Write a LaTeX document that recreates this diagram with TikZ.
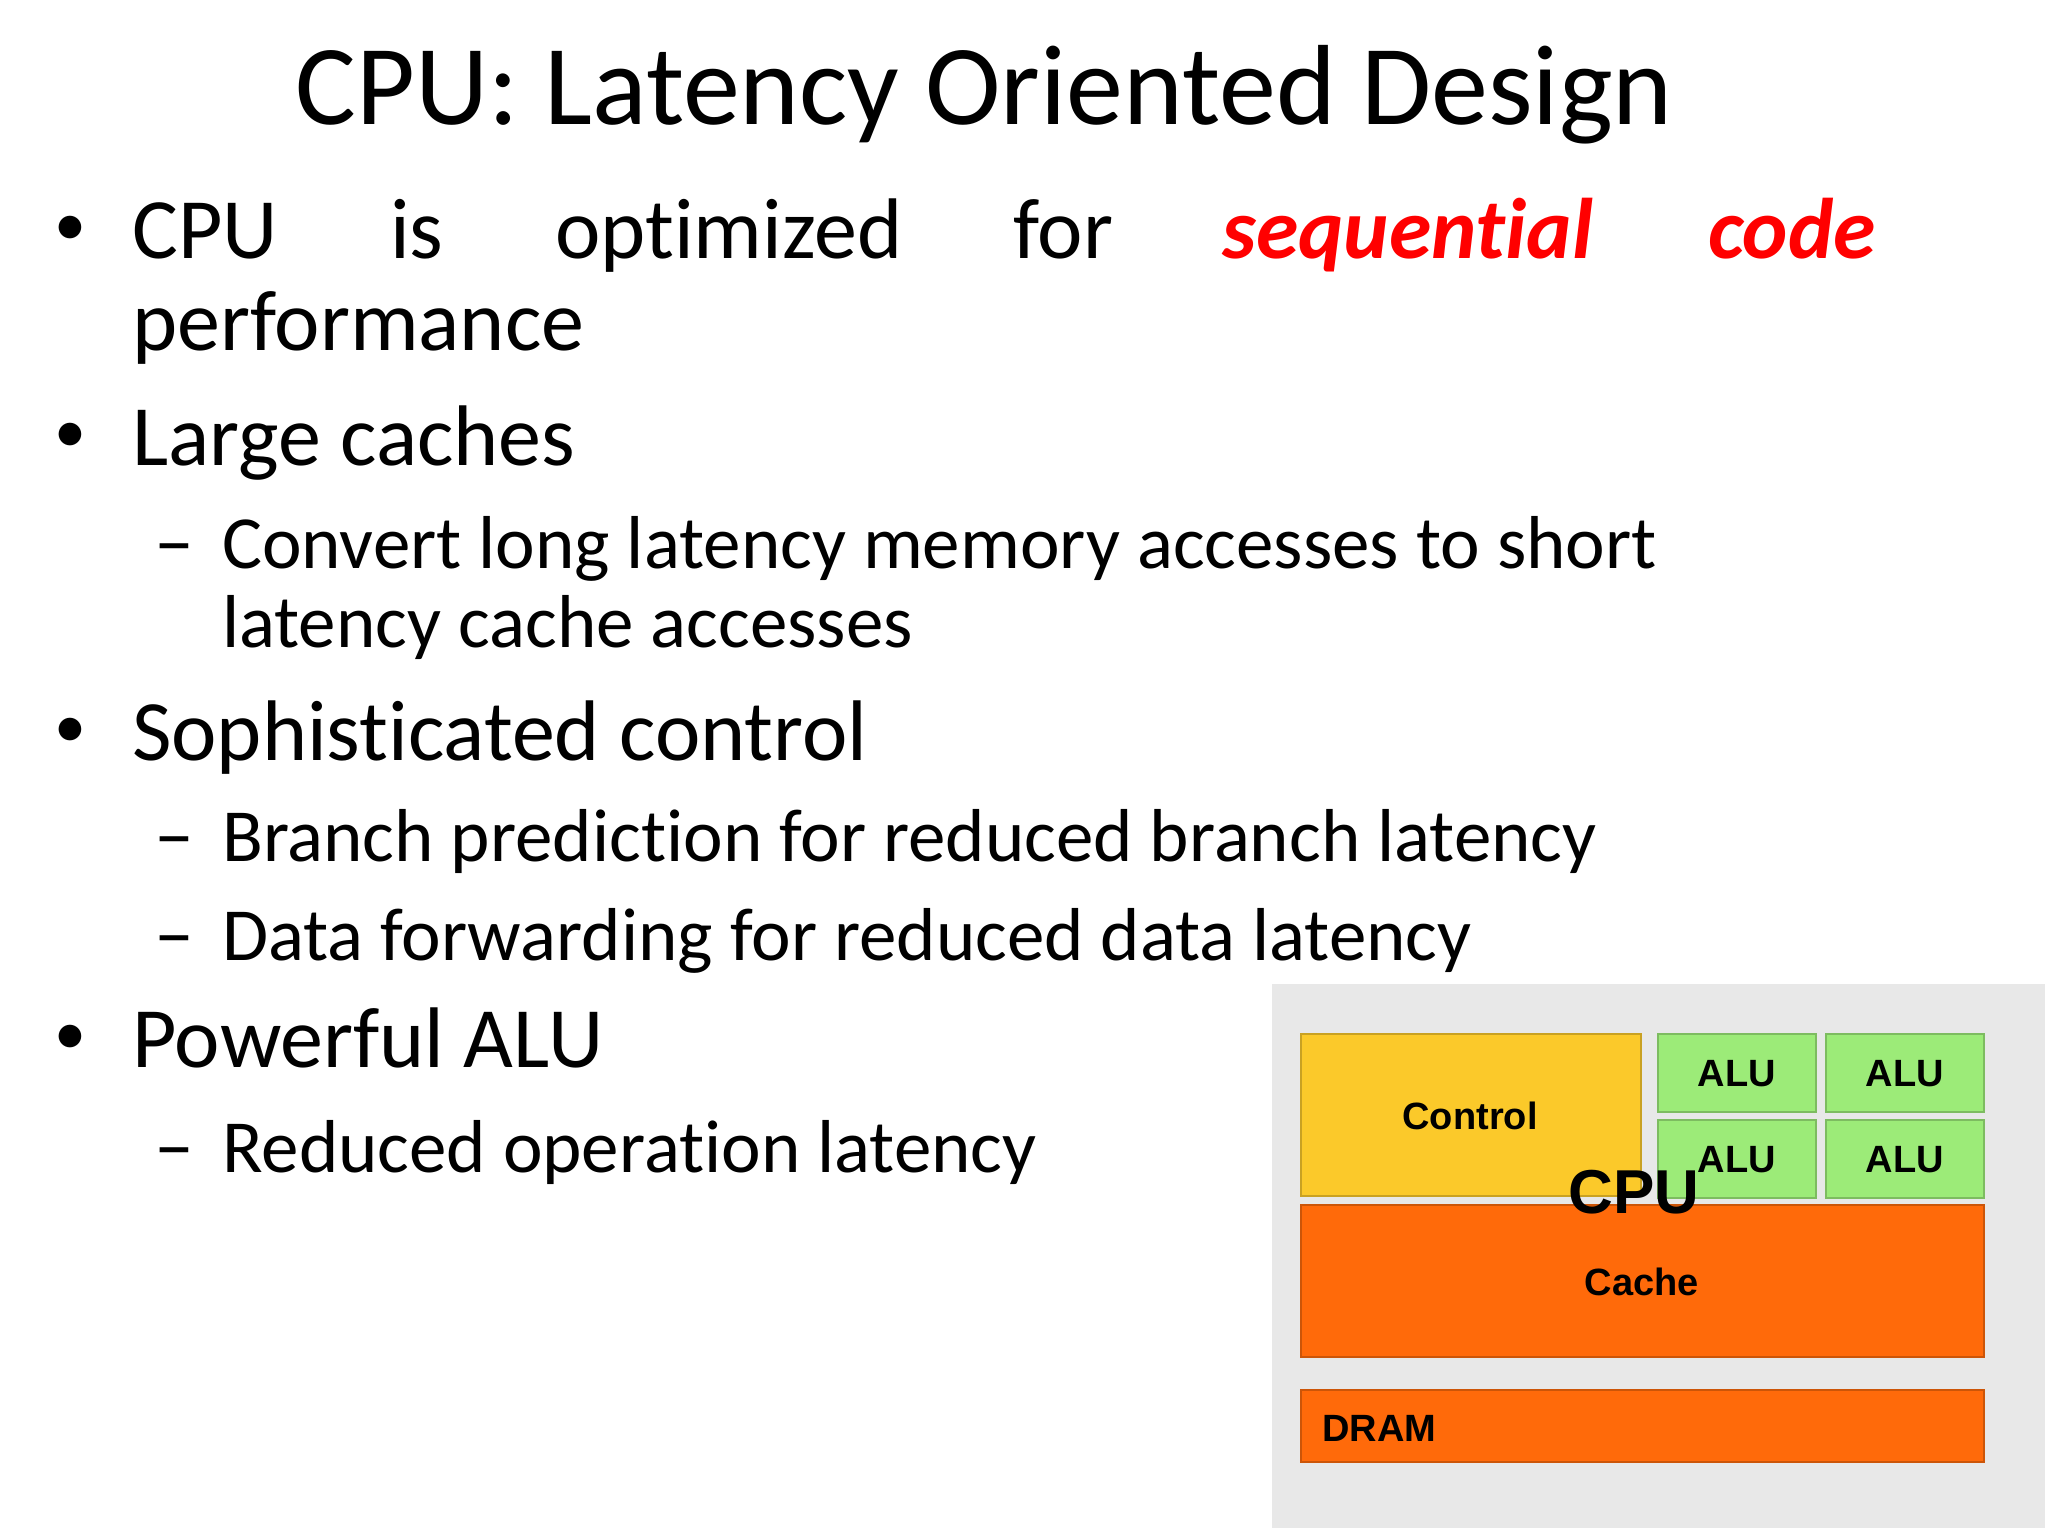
\documentclass[tikz,border=0pt]{standalone}
\usepackage{fontspec}
\setmainfont[Ligatures=NoCommon]{Carlito}
\newfontfamily\arialf{Liberation Sans}
\begin{document}
\begin{tikzpicture}[x=1pt,y=-1pt,
  txt/.style={anchor=base west,inner sep=0pt,font=\fontsize{86}{100}\selectfont},
  sub/.style={anchor=base west,inner sep=0pt,font=\fontsize{75}{90}\selectfont},
  blk/.style={draw=#1!80!black,line width=1.5pt},
  lab/.style={inner sep=0pt,font=\arialf\bfseries\fontsize{38}{40}\selectfont}]
\useasboundingbox (0,0) rectangle (2048,1536);
\fill[white] (0,0) rectangle (2048,1536);
\node[anchor=base,inner sep=0pt,font=\fontsize{114}{130}\selectfont] (title) at (984,125) {CPU: Latency Oriented Design};
% bullets
\foreach \n/\y in {b1/245,b2/452,b3/747,b4/1054}{\node[anchor=base west,inner sep=0pt,font=\fontsize{64}{70}\selectfont] (\n) at (54,\y) {•};}
\node[txt] (w1) at (132,258) {CPU};
\node[txt] (w2) at (390,258) {is};
\node[txt] (w3) at (555,258) {optimized};
\node[txt] (w4) at (1013,258) {for};
\node[txt,text=red] (w5) at (1222,258) {\textbf{\textit{sequential}}};
\node[txt,text=red] (w6) at (1708,258) {\textbf{\textit{code}}};
\node[txt] (w7) at (132,350) {performance};
\node[txt] (l2) at (132,465) {Large caches};
\foreach \n/\y in {d1/568,d2/861,d3/960,d4/1172}{\node[sub,font=\fontsize{80}{90}\selectfont] (\n) at (154,\y) {–};}
\node[sub] (s1) at (222,568) {Convert long latency memory accesses to short};
\node[sub] (s1b) at (222,647) {latency cache accesses};
\node[txt] (l3) at (132,760) {Sophisticated control};
\node[sub] (s2) at (222,861) {Branch prediction for reduced branch latency};
\node[sub] (s3) at (222,960) {Data forwarding for reduced data latency};
\node[txt] (l4) at (132,1067) {Powerful ALU};
\node[sub] (s4) at (222,1172) {Reduced operation latency};
% diagram
\fill[gray!18] (1272,984) rectangle (2045,1528);
\definecolor{ctl}{HTML}{FBC92A}
\definecolor{alu}{HTML}{9CEB78}
\definecolor{cch}{HTML}{FF6A0A}
\filldraw[fill=ctl,blk=ctl] (1301,1034) rectangle (1641,1196);
\node[lab] (ctl) at (1470,1116) {Control};
\foreach \x/\y/\n in {1658/1034/a1,1826/1034/a2,1658/1120/a3,1826/1120/a4}{
  \filldraw[fill=alu,blk=alu] (\x,\y) rectangle ++(158,78);
  \node[lab] (\n) at (\x+79,\y+40) {ALU};}
\filldraw[fill=cch,blk=cch] (1301,1205) rectangle (1984,1357);
\node[lab] (cache) at (1642,1282) {Cache};
\filldraw[fill=cch,blk=cch] (1301,1390) rectangle (1984,1462);
\node[lab,anchor=west] (dram) at (1322,1428) {DRAM};
\node[inner sep=0pt,font=\arialf\bfseries\fontsize{62}{64}\selectfont] (cpu) at (1634,1192) {CPU};
\end{tikzpicture}
\end{document}
